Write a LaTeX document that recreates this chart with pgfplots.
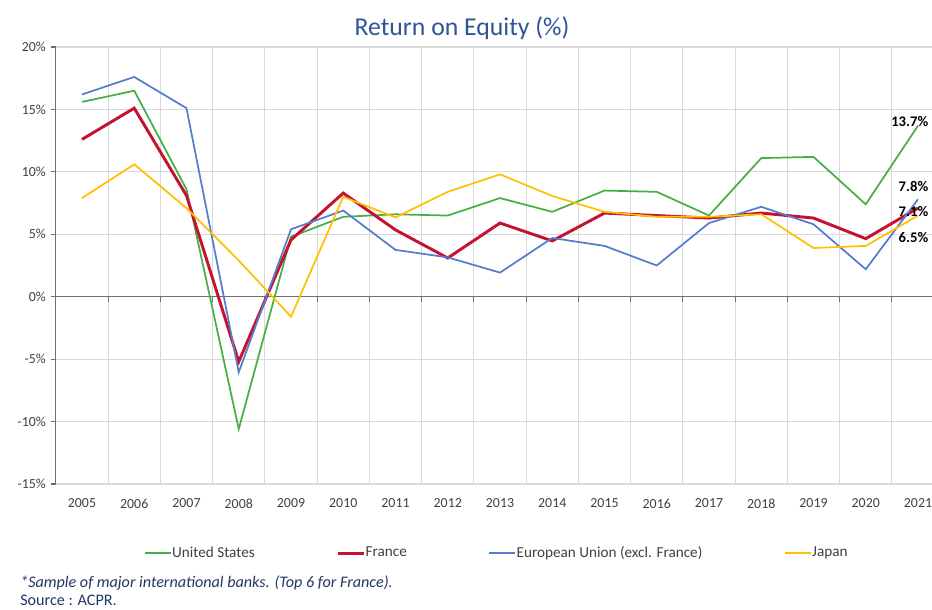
\documentclass[border=0pt]{standalone}
\usepackage{pgfplots}
\usepackage{pgfplotstable}
\pgfplotsset{compat=1.18}
\usepackage{fontspec}
\setmainfont{Carlito}
\definecolor{usgreen}{RGB}{70,175,70}
\definecolor{frred}{RGB}{196,18,48}
\definecolor{eublue}{RGB}{85,125,205}
\definecolor{jpyellow}{RGB}{255,192,0}
\definecolor{titleblue}{RGB}{47,85,151}
\definecolor{notenavy}{RGB}{31,56,100}
\definecolor{ticktext}{RGB}{64,64,64}
\definecolor{gridgray}{RGB}{217,217,217}
\definecolor{axisgray}{RGB}{110,110,110}

\pgfplotstableread{
x  us     fr     eu     jp
0  15.6   12.6   16.2   7.9
1  16.5   15.1   17.6   10.6
2  8.6    8.1    15.1   7.1
3  -10.6  -5.2   -6.05  2.9
4  4.8    4.55   5.4    -1.6
5  6.4    8.3    6.9    8.0
6  6.6    5.35   3.75   6.35
7  6.5    3.1    3.15   8.4
8  7.9    5.9    1.93   9.8
9  6.8    4.47   4.7    8.07
10 8.5    6.7    4.07   6.8
11 8.4    6.5    2.5    6.4
12 6.5    6.3    5.9    6.4
13 11.1   6.7    7.2    6.6
14 11.2   6.3    5.8    3.9
15 7.4    4.65   2.2    4.07
16 13.7   7.1    7.8    6.5
}\roe

\begin{document}
\begin{tikzpicture}[x=1pt,y=1pt]
\path[use as bounding box, clip] (0,0) rectangle (699,457.5);
\node[font=\fontsize{19.3}{22}\selectfont, text=titleblue] at (346.5,436.5) {Return on Equity (\%)};
\begin{axis}[
  at={(41.9pt,94.5pt)}, anchor=south west,
  scale only axis, width=666.2pt, height=327.75pt,
  xmin=-0.5, xmax=16.5, ymin=-15, ymax=20,
  axis x line*=bottom, x axis line style={draw=none},
  axis y line*=left, y axis line style={draw=axisgray, line width=0.8pt},
  xtick={0,...,16},
  xticklabels={2005,2006,2007,2008,2009,2010,2011,2012,2013,2014,2015,2016,2017,2018,2019,2020,2021},
  x tick style={draw=none},
  minor xtick={0.5,1.5,...,15.5},
  xminorgrids, minor x grid style={gridgray, line width=0.8pt},
  minor tick length=0pt,
  ytick={-15,-10,-5,0,5,10,15,20},
  yticklabels={-15\%,-10\%,-5\%,0\%,5\%,10\%,15\%,20\%},
  ymajorgrids, major y grid style={gridgray, line width=0.8pt},
  y tick style={draw=axisgray, line width=0.8pt},
  tick align=outside, major tick length=4pt,
  tick label style={font=\fontsize{10.4}{12}\selectfont, text=ticktext},
  xticklabel style={yshift=-3.5pt},
  legend style={at={(0.4955,-0.158)}, anchor=center, draw=none, fill=none,
    legend columns=4, font=\fontsize{11.4}{13}\selectfont, text=ticktext,
    nodes={inner xsep=0.5pt},
    /tikz/every even column/.append style={column sep=60.5pt}},
  legend image code/.code={\draw[#1] (0pt,0pt) -- (19.5pt,0pt);},
  legend cell align=left,
  clip=false,
]
\draw[axisgray, line width=0.8pt] (axis cs:-0.5,0) -- (axis cs:16.5,0);
\pgfplotsinvokeforeach{0.5,1.5,2.5,3.5,4.5,5.5,6.5,7.5,8.5,9.5,10.5,11.5,12.5,13.5,14.5,15.5}{
  \draw[axisgray, line width=0.8pt] (axis cs:#1,0) -- ++(0pt,-4pt);
}
\addplot[usgreen, line width=1.3pt] table[x=x, y=us] {\roe};
\addlegendentry{United States}
\addplot[frred, line width=2.2pt] table[x=x, y=fr] {\roe};
\addlegendentry{France}
\addplot[eublue, line width=1.3pt] table[x=x, y=eu] {\roe};
\addlegendentry{European Union (excl. France)}
\addplot[jpyellow, line width=1.3pt] table[x=x, y=jp] {\roe};
\addlegendentry{Japan}
\node[anchor=east, inner sep=0pt, font=\bfseries\fontsize{11}{13}\selectfont] at (axis cs:16.2,14.04) {13.7\%};
\node[anchor=east, inner sep=0pt, font=\bfseries\fontsize{11}{13}\selectfont] at (axis cs:16.2,8.79) {7.8\%};
\node[anchor=east, inner sep=0pt, font=\bfseries\fontsize{11}{13}\selectfont] at (axis cs:16.2,6.81) {7.1\%};
\node[anchor=east, inner sep=0pt, font=\bfseries\fontsize{11}{13}\selectfont] at (axis cs:16.2,4.76) {6.5\%};
\end{axis}
\node[anchor=west, inner sep=0pt, font=\itshape\fontsize{12.1}{14}\selectfont, text=notenavy] at (15,20) {*Sample of major international banks. (Top 6 for France).};
\node[anchor=west, inner sep=0pt, font=\fontsize{12.1}{14}\selectfont, text=notenavy] at (15,7.5) {Source : ACPR.};
\end{tikzpicture}
\end{document}
